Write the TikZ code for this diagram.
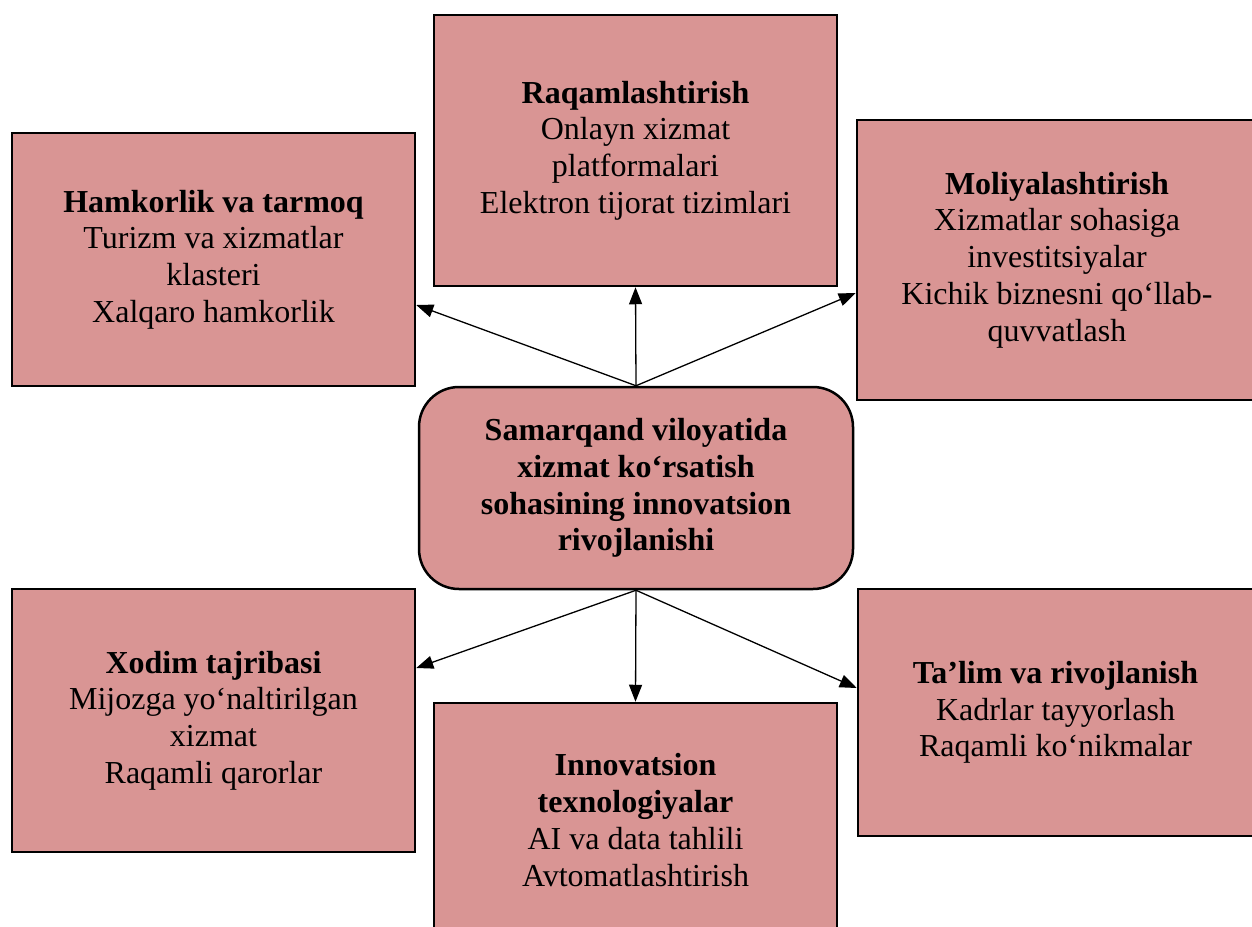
\documentclass[tikz,border=0pt]{standalone}
\usepackage{fontspec}
\setmainfont{Liberation Serif}
\usetikzlibrary{arrows.meta}
\definecolor{boxfill}{HTML}{D99594}
\tikzset{
  box/.style={draw=black, line width=2.5pt, fill=boxfill, align=center, inner sep=0pt,
    font=\fontsize{32}{36.7}\selectfont},
  hub/.style={box, rounded corners=40pt},
  conn/.style={line width=1.3pt, -{Triangle[length=17pt,width=13pt]}}
}
\begin{document}
\begin{tikzpicture}[x=1pt,y=-1pt]
\useasboundingbox (0,0) rectangle (1252,926);
\clip (0,0) rectangle (1252,926);
\node[box, minimum width=403pt, minimum height=253pt] (ham) at (213.5,259.5)
  {\textbf{Hamkorlik va tarmoq}\\Turizm va xizmatlar\\klasteri\\Xalqaro hamkorlik};
\node[box, minimum width=403pt, minimum height=271pt] (raq) at (635.5,150.5)
  {\textbf{Raqamlashtirish}\\Onlayn xizmat\\platformalari\\Elektron tijorat tizimlari};
\node[box, minimum width=400pt, minimum height=280pt] (mol) at (1057,260)
  {\textbf{Moliyalashtirish}\\Xizmatlar sohasiga\\investitsiyalar\\Kichik biznesni qo‘llab-\\quvvatlash};
\node[hub, minimum width=434pt, minimum height=202pt, font=\fontsize{32}{36.7}\selectfont\bfseries] (hubn) at (636,488)
  {Samarqand viloyatida\\xizmat ko‘rsatish\\sohasining innovatsion\\rivojlanishi};
\node[box, minimum width=403pt, minimum height=263pt] (xod) at (213.5,720.5)
  {\textbf{Xodim tajribasi}\\Mijozga yo‘naltirilgan\\xizmat\\Raqamli qarorlar};
\node[box, minimum width=403pt, minimum height=234pt] (inn) at (635.5,820)
  {\textbf{Innovatsion}\\\textbf{texnologiyalar}\\AI va data tahlili\\Avtomatlashtirish};
\node[box, minimum width=395pt, minimum height=247pt] (tal) at (1055.5,712.5)
  {\textbf{Ta’lim va rivojlanish}\\Kadrlar tayyorlash\\Raqamli ko‘nikmalar};
\coordinate (top) at (hubn.north);
\coordinate (bot) at (hubn.south);
\draw[conn] (top) -- (ham.east |- 0,305);
\draw[conn] (top) -- (raq.south);
\draw[conn] (top) -- (mol.west |- 0,293);
\draw[conn] (bot) -- (xod.east |- 0,668);
\draw[conn] (bot) -- (inn.north);
\draw[conn] (bot) -- (tal.west |- 0,688);
\end{tikzpicture}
\end{document}
